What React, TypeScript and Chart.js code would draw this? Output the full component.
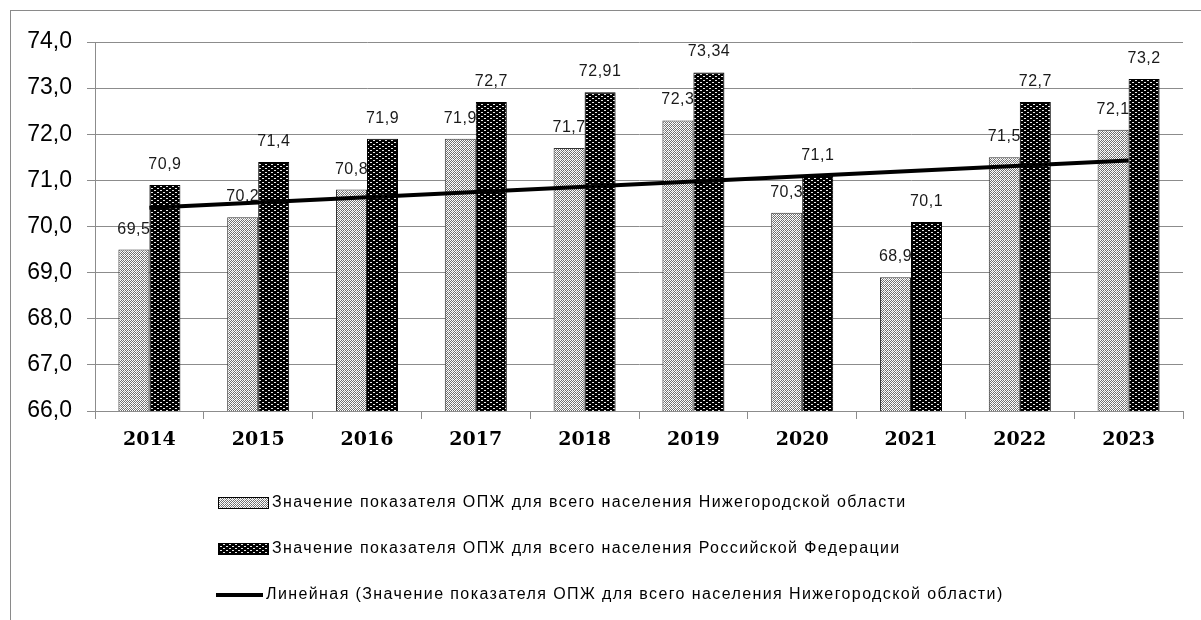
import React, { useEffect, useRef } from "react";
import { Chart, registerables } from "chart.js";

Chart.register(...registerables);

const years = ["2014", "2015", "2016", "2017", "2018", "2019", "2020", "2021", "2022", "2023"];
const nizhny = [69.5, 70.2, 70.8, 71.9, 71.7, 72.3, 70.3, 68.9, 71.5, 72.1];
const russia = [70.9, 71.4, 71.9, 72.7, 72.91, 73.34, 71.1, 70.1, 72.7, 73.2];
const yTicks = [66, 67, 68, 69, 70, 71, 72, 73, 74];

const legendLabels = [
  "Значение показателя ОПЖ для всего населения Нижегородской области",
  "Значение показателя ОПЖ для всего населения Российской Федерации",
  "Линейная (Значение показателя ОПЖ для всего населения Нижегородской области)",
];

function linearTrend(vals: number[]): number[] {
  const n = vals.length;
  const xs = vals.map((_, i) => i + 1);
  const mx = xs.reduce((a, b) => a + b, 0) / n;
  const my = vals.reduce((a, b) => a + b, 0) / n;
  let sxy = 0, sxx = 0;
  for (let i = 0; i < n; i++) {
    sxy += (xs[i] - mx) * (vals[i] - my);
    sxx += (xs[i] - mx) * (xs[i] - mx);
  }
  const b = sxy / sxx;
  const a = my - b * mx;
  return xs.map((x) => a + b * x);
}

const fmt = (v: number) => String(v).replace(".", ",");

function makePattern(kind: "light" | "dark"): CanvasPattern | string {
  const c = document.createElement("canvas");
  const ctx = c.getContext("2d");
  if (!ctx) return kind === "light" ? "#c0c0c0" : "#202020";
  if (kind === "light") {
    c.width = 4; c.height = 4;
    ctx.fillStyle = "#ffffff";
    ctx.fillRect(0, 0, 4, 4);
    ctx.fillStyle = "#6e6e6e";
    const pts = [[1, 0], [3, 0], [0, 1], [2, 1], [1, 2], [3, 2], [2, 3]];
    pts.forEach(([x, y]) => ctx.fillRect(x, y, 1, 1));
    ctx.fillStyle = "#b0b0b0";
    ctx.fillRect(0, 3, 1, 1);
  } else {
    c.width = 6; c.height = 4;
    ctx.fillStyle = "#000000";
    ctx.fillRect(0, 0, 6, 4);
    ctx.fillStyle = "#e8e8e8";
    ctx.fillRect(1, 0, 2, 1);
    ctx.fillRect(4, 2, 2, 1);
  }
  return ctx.createPattern(c, "repeat") as CanvasPattern;
}

export default function App() {
  const ref = useRef<HTMLCanvasElement | null>(null);

  useEffect(() => {
    const canvas = ref.current;
    if (!canvas) return;
    const light = makePattern("light");
    const dark = makePattern("dark");
    const trend = linearTrend(nizhny);

    const borderPlugin = {
      id: "outerBorder",
      beforeDraw(chart: any) {
        const ctx = chart.ctx;
        ctx.save();
        ctx.fillStyle = "#ffffff";
        ctx.fillRect(0, 0, chart.width, chart.height);
        ctx.strokeStyle = "#8a8a8a";
        ctx.lineWidth = 1;
        ctx.strokeRect(10.5, 10.5, chart.width + 20, chart.height + 20);
        ctx.restore();
      },
    };

    const labelPlugin = {
      id: "barLabels",
      beforeDatasetsDraw(chart: any) {
        const ctx = chart.ctx;
        ctx.save();
        ctx.font = "16px 'Liberation Sans'";
        (ctx as any).letterSpacing = "0.5px";
        ctx.fillStyle = "#1a1a1a";
        ctx.textAlign = "center";
        ctx.textBaseline = "alphabetic";
        [0, 1].forEach((di) => {
          const meta = chart.getDatasetMeta(di);
          const vals = chart.data.datasets[di].data as number[];
          meta.data.forEach((el: any, i: number) => {
            ctx.fillText(fmt(vals[i]), el.x, el.y - 16);
          });
        });
        ctx.restore();
      },
    };

    const legendPlugin = {
      id: "customLegend",
      afterDraw(chart: any) {
        const ctx = chart.ctx;
        ctx.save();
        ctx.font = "16px 'Liberation Sans'";
        (ctx as any).letterSpacing = "1.4px";
        ctx.fillStyle = "#000000";
        ctx.textBaseline = "middle";
        ctx.textAlign = "left";
        const rows = [503, 549, 595];
        [light, dark].forEach((p, i) => {
          const y = rows[i];
          ctx.fillStyle = p as any;
          ctx.fillRect(218, y - 6, 50, 12);
          ctx.strokeStyle = "#000000";
          ctx.lineWidth = 1;
          ctx.strokeRect(218.5, y - 5.5, 50, 11);
          ctx.fillStyle = "#000000";
          ctx.fillText(legendLabels[i], 272, y);
        });
        const y3 = rows[2];
        ctx.strokeStyle = "#000000";
        ctx.lineWidth = 4;
        ctx.beginPath();
        ctx.moveTo(216, y3);
        ctx.lineTo(263, y3);
        ctx.stroke();
        ctx.fillText(legendLabels[2], 266, y3);
        ctx.restore();
      },
    };

    const chart = new Chart(canvas, {
      type: "bar",
      data: {
        labels: years,
        datasets: [
          {
            type: "bar",
            label: legendLabels[0],
            data: nizhny,
            backgroundColor: light as any,
            borderColor: "#333333",
            borderWidth: 1,
            borderSkipped: false,
            categoryPercentage: 0.57,
            barPercentage: 1,
            order: 2,
          },
          {
            type: "bar",
            label: legendLabels[1],
            data: russia,
            backgroundColor: dark as any,
            borderColor: "#000000",
            borderWidth: 1,
            borderSkipped: false,
            categoryPercentage: 0.57,
            barPercentage: 1,
            order: 2,
          },
          {
            type: "line",
            label: legendLabels[2],
            data: trend,
            borderColor: "#000000",
            borderWidth: 4,
            pointRadius: 0,
            fill: false,
            tension: 0,
            order: 1,
          } as any,
        ],
      },
      options: {
        responsive: false,
        animation: false,
        devicePixelRatio: 1,
        layout: { padding: { left: 0, right: 18, top: 42, bottom: 149 } },
        plugins: {
          legend: { display: false },
          tooltip: { enabled: false },
        },
        scales: {
          x: {
            grid: {
              display: true,
              drawOnChartArea: false,
              drawTicks: true,
              tickLength: 8,
              color: "#8c8c8c",
              offset: true,
            },
            border: { display: true, color: "#8c8c8c" },
            ticks: {
              color: "#000000",
              padding: 10,
              font: { family: "'DejaVu Serif'", size: 19, weight: "bold" },
            },
            afterFit(scale: any) {
              scale.height = 60;
            },
          },
          y: {
            min: 66,
            max: 74,
            afterBuildTicks(scale: any) {
              scale.ticks = yTicks.map((v) => ({ value: v }));
            },
            grid: { color: "#8c8c8c", tickLength: 8, drawTicks: true },
            border: { display: true, color: "#8c8c8c" },
            ticks: {
              color: "#000000",
              padding: 15,
              font: { family: "'Liberation Sans'", size: 23 },
              callback: (v: any) => Number(v).toFixed(1).replace(".", ","),
            },
            afterFit(scale: any) {
              scale.width = 95;
            },
          },
        },
      },
      plugins: [borderPlugin, labelPlugin, legendPlugin],
    });
    return () => chart.destroy();
  }, []);

  return (
    <div style={{ position: "fixed", left: 0, top: 0, width: 1201, height: 620 }}>
      <canvas ref={ref} width={1201} height={620} />
    </div>
  );
}
